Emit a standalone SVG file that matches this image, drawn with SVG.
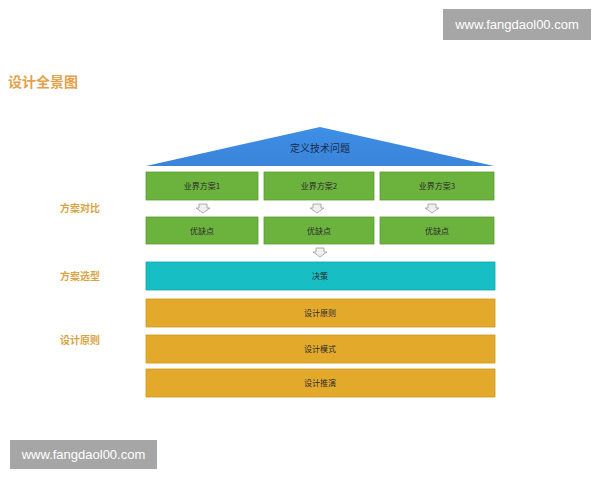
<svg xmlns="http://www.w3.org/2000/svg" width="600" height="480" viewBox="0 0 600 480">
<defs>
<style>
.wm{fill:#a6a6a6}
.wmt{font-family:"Liberation Sans",Arial,sans-serif;font-size:13px;fill:#ffffff}
.side{font-family:"Noto Sans CJK SC",sans-serif;font-size:10px;font-weight:bold;fill:#d9a544}
.lbl{font-family:"Noto Sans CJK SC",sans-serif;font-size:8px;fill:#2a2a2a;text-anchor:middle}
.g{fill:#6cb33e;stroke:#5b9e32;stroke-width:0.8}
.c{fill:#17bec4;stroke:#13a7ad;stroke-width:0.8}
.o{fill:#e2a92a;stroke:#cf9620;stroke-width:0.8}
.arr{fill:#f0f0f0;stroke:#9a9a9a;stroke-width:0.8}
</style>
<linearGradient id="tri" x1="0" y1="0" x2="0" y2="1">
<stop offset="0" stop-color="#3e8fe6"/>
<stop offset="1" stop-color="#3a84d9"/>
</linearGradient>
<path id="da" d="M-4,0 H4 V4 H7 L0,9 L-7,4 H-4 Z"/>
</defs>
<rect width="600" height="480" fill="#ffffff"/>

<g id="watermark-top">
<rect class="wm" x="443" y="9" width="148" height="31"/>
<text class="wmt" x="517" y="29" text-anchor="middle">www.fangdaol00.com</text>
</g>
<g id="watermark-bottom">
<rect class="wm" x="10" y="440" width="147" height="29"/>
<text class="wmt" x="83.5" y="459" text-anchor="middle">www.fangdaol00.com</text>
</g>

<text x="8" y="87" font-family="Noto Sans CJK SC,sans-serif" font-size="14" font-weight="bold" fill="#e3a24a">设计全景图</text>

<text class="side" x="60" y="212">方案对比</text>
<text class="side" x="60" y="280">方案选型</text>
<text class="side" x="60" y="344">设计原则</text>

<g id="n-define">
<polygon points="320,127 494,166 146,166" fill="url(#tri)"/>
<text x="320" y="152" font-family="Noto Sans CJK SC,sans-serif" font-size="10" fill="#1a2a4a" text-anchor="middle">定义技术问题</text>
</g>

<g id="n-s1"><rect class="g" x="146" y="172" width="112" height="28"/><text class="lbl" x="202" y="189">业界方案1</text></g>
<g id="n-s2"><rect class="g" x="264" y="172" width="110" height="28"/><text class="lbl" x="319" y="189">业界方案2</text></g>
<g id="n-s3"><rect class="g" x="380" y="172" width="114" height="28"/><text class="lbl" x="437" y="189">业界方案3</text></g>

<g id="n-p1"><rect class="g" x="146" y="217" width="112" height="27"/><text class="lbl" x="202" y="234">优缺点</text></g>
<g id="n-p2"><rect class="g" x="264" y="217" width="110" height="27"/><text class="lbl" x="319" y="234">优缺点</text></g>
<g id="n-p3"><rect class="g" x="380" y="217" width="114" height="27"/><text class="lbl" x="437" y="234">优缺点</text></g>

<g id="n-decide"><rect class="c" x="146" y="262" width="349" height="28"/><text class="lbl" x="320" y="279">决策</text></g>
<g id="n-principle"><rect class="o" x="146" y="299" width="349" height="28"/><text class="lbl" x="320" y="316">设计原则</text></g>
<g id="n-pattern"><rect class="o" x="146" y="335" width="349" height="28"/><text class="lbl" x="320" y="352">设计模式</text></g>
<g id="n-deduce"><rect class="o" x="146" y="369" width="349" height="28"/><text class="lbl" x="320" y="386">设计推演</text></g>

<g id="connectors">
<use href="#da" class="arr" x="203" y="204"/>
<use href="#da" class="arr" x="317" y="204"/>
<use href="#da" class="arr" x="432" y="204"/>
<use href="#da" class="arr" x="320" y="248"/>
</g>
</svg>
